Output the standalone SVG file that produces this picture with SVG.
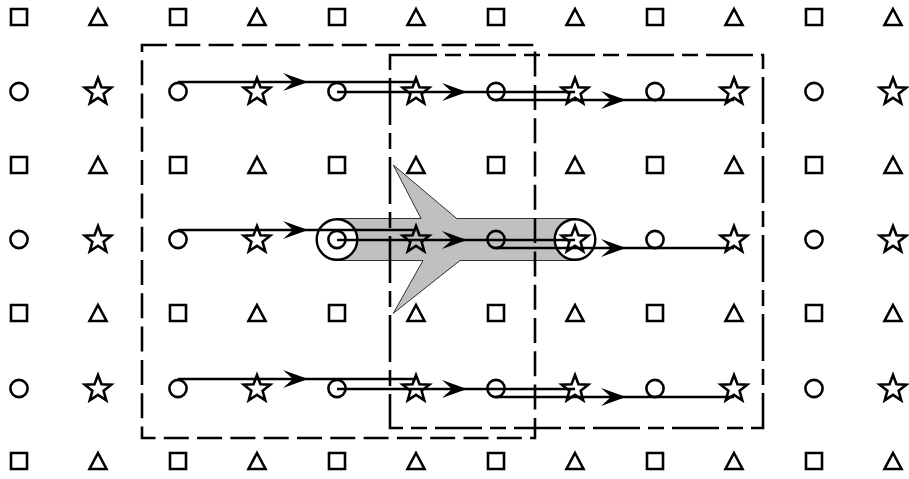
<svg xmlns="http://www.w3.org/2000/svg" xmlns:xlink="http://www.w3.org/1999/xlink" width="909" height="479" viewBox="0 0 909 479">
<style>
.s{fill:none;stroke:#000;stroke-width:2.6}
.d1{fill:none;stroke:#000;stroke-width:2.6;stroke-dasharray:25 8.3}
.d2{fill:none;stroke:#000;stroke-width:2.6;stroke-dasharray:47 8 16 8}
.ln{fill:none;stroke:#000;stroke-width:2.4}
.big{fill:#fff;stroke:#000;stroke-width:2.4}
</style>
<defs>
<path id="sq" d="M-8,-8 h16 v16 h-16 Z"/>
<path id="tri" d="M0,-8 L8.5,8 L-8.5,8 Z"/>
<circle id="ci" cx="0" cy="0" r="8.6"/>
<path id="st" d="M0,-14 L3.47,-4.78 L13.31,-4.33 L5.62,1.83 L8.23,11.33 L0,5.9 L-8.23,11.33 L-5.62,1.83 L-13.31,-4.33 L-3.47,-4.78 Z"/>
<marker id="ah" viewBox="-16 -10 28 20" refX="0" refY="0" markerWidth="28" markerHeight="20" markerUnits="userSpaceOnUse" orient="auto">
<path d="M11,0 L-14,-9 L-4,0 L-14,9 Z" fill="#000"/>
</marker>
</defs>
<rect width="909" height="479" fill="#fff"/>
<g id="highlight">
<path d="M337,218.5 H421 L393.3,165 L456.7,218.5 H575 V260.5 H460 L393.3,313.3 L423,260.5 H337 Z" fill="#c0c0c0" stroke="#303030" stroke-width="1"/>
<circle cx="337" cy="239.5" r="20.3" class="big"/>
<circle cx="575" cy="239.5" r="20.3" class="big"/>
</g>
<g id="grid">
<g id="r0c0" class="s"><use xlink:href="#sq" x="19" y="17"/></g>
<g id="r0c1" class="s"><use xlink:href="#tri" x="98" y="17"/></g>
<g id="r0c2" class="s"><use xlink:href="#sq" x="178" y="17"/></g>
<g id="r0c3" class="s"><use xlink:href="#tri" x="257" y="17"/></g>
<g id="r0c4" class="s"><use xlink:href="#sq" x="337" y="17"/></g>
<g id="r0c5" class="s"><use xlink:href="#tri" x="416" y="17"/></g>
<g id="r0c6" class="s"><use xlink:href="#sq" x="496" y="17"/></g>
<g id="r0c7" class="s"><use xlink:href="#tri" x="575" y="17"/></g>
<g id="r0c8" class="s"><use xlink:href="#sq" x="655" y="17"/></g>
<g id="r0c9" class="s"><use xlink:href="#tri" x="734" y="17"/></g>
<g id="r0c10" class="s"><use xlink:href="#sq" x="814" y="17"/></g>
<g id="r0c11" class="s"><use xlink:href="#tri" x="893" y="17"/></g>

<g id="r1c0" class="s"><use xlink:href="#ci" x="19" y="91.5"/></g>
<g id="r1c1" class="s"><use xlink:href="#st" x="98" y="92"/></g>
<g id="r1c2" class="s"><use xlink:href="#ci" x="178" y="91.5"/></g>
<g id="r1c3" class="s"><use xlink:href="#st" x="257" y="92"/></g>
<g id="r1c4" class="s"><use xlink:href="#ci" x="337" y="91.5"/></g>
<g id="r1c5" class="s"><use xlink:href="#st" x="416" y="92"/></g>
<g id="r1c6" class="s"><use xlink:href="#ci" x="496" y="91.5"/></g>
<g id="r1c7" class="s"><use xlink:href="#st" x="575" y="92"/></g>
<g id="r1c8" class="s"><use xlink:href="#ci" x="655" y="91.5"/></g>
<g id="r1c9" class="s"><use xlink:href="#st" x="734" y="92"/></g>
<g id="r1c10" class="s"><use xlink:href="#ci" x="814" y="91.5"/></g>
<g id="r1c11" class="s"><use xlink:href="#st" x="893" y="92"/></g>

<g id="r2c0" class="s"><use xlink:href="#sq" x="19" y="165"/></g>
<g id="r2c1" class="s"><use xlink:href="#tri" x="98" y="165"/></g>
<g id="r2c2" class="s"><use xlink:href="#sq" x="178" y="165"/></g>
<g id="r2c3" class="s"><use xlink:href="#tri" x="257" y="165"/></g>
<g id="r2c4" class="s"><use xlink:href="#sq" x="337" y="165"/></g>
<g id="r2c5" class="s"><use xlink:href="#tri" x="416" y="165"/></g>
<g id="r2c6" class="s"><use xlink:href="#sq" x="496" y="165"/></g>
<g id="r2c7" class="s"><use xlink:href="#tri" x="575" y="165"/></g>
<g id="r2c8" class="s"><use xlink:href="#sq" x="655" y="165"/></g>
<g id="r2c9" class="s"><use xlink:href="#tri" x="734" y="165"/></g>
<g id="r2c10" class="s"><use xlink:href="#sq" x="814" y="165"/></g>
<g id="r2c11" class="s"><use xlink:href="#tri" x="893" y="165"/></g>

<g id="r3c0" class="s"><use xlink:href="#ci" x="19" y="239.5"/></g>
<g id="r3c1" class="s"><use xlink:href="#st" x="98" y="240"/></g>
<g id="r3c2" class="s"><use xlink:href="#ci" x="178" y="239.5"/></g>
<g id="r3c3" class="s"><use xlink:href="#st" x="257" y="240"/></g>
<g id="r3c4" class="s"><use xlink:href="#ci" x="337" y="239.5"/></g>
<g id="r3c5" class="s"><use xlink:href="#st" x="416" y="240"/></g>
<g id="r3c6" class="s"><use xlink:href="#ci" x="496" y="239.5"/></g>
<g id="r3c7" class="s"><use xlink:href="#st" x="575" y="240"/></g>
<g id="r3c8" class="s"><use xlink:href="#ci" x="655" y="239.5"/></g>
<g id="r3c9" class="s"><use xlink:href="#st" x="734" y="240"/></g>
<g id="r3c10" class="s"><use xlink:href="#ci" x="814" y="239.5"/></g>
<g id="r3c11" class="s"><use xlink:href="#st" x="893" y="240"/></g>

<g id="r4c0" class="s"><use xlink:href="#sq" x="19" y="313"/></g>
<g id="r4c1" class="s"><use xlink:href="#tri" x="98" y="313"/></g>
<g id="r4c2" class="s"><use xlink:href="#sq" x="178" y="313"/></g>
<g id="r4c3" class="s"><use xlink:href="#tri" x="257" y="313"/></g>
<g id="r4c4" class="s"><use xlink:href="#sq" x="337" y="313"/></g>
<g id="r4c5" class="s"><use xlink:href="#tri" x="416" y="313"/></g>
<g id="r4c6" class="s"><use xlink:href="#sq" x="496" y="313"/></g>
<g id="r4c7" class="s"><use xlink:href="#tri" x="575" y="313"/></g>
<g id="r4c8" class="s"><use xlink:href="#sq" x="655" y="313"/></g>
<g id="r4c9" class="s"><use xlink:href="#tri" x="734" y="313"/></g>
<g id="r4c10" class="s"><use xlink:href="#sq" x="814" y="313"/></g>
<g id="r4c11" class="s"><use xlink:href="#tri" x="893" y="313"/></g>

<g id="r5c0" class="s"><use xlink:href="#ci" x="19" y="388.5"/></g>
<g id="r5c1" class="s"><use xlink:href="#st" x="98" y="389"/></g>
<g id="r5c2" class="s"><use xlink:href="#ci" x="178" y="388.5"/></g>
<g id="r5c3" class="s"><use xlink:href="#st" x="257" y="389"/></g>
<g id="r5c4" class="s"><use xlink:href="#ci" x="337" y="388.5"/></g>
<g id="r5c5" class="s"><use xlink:href="#st" x="416" y="389"/></g>
<g id="r5c6" class="s"><use xlink:href="#ci" x="496" y="388.5"/></g>
<g id="r5c7" class="s"><use xlink:href="#st" x="575" y="389"/></g>
<g id="r5c8" class="s"><use xlink:href="#ci" x="655" y="388.5"/></g>
<g id="r5c9" class="s"><use xlink:href="#st" x="734" y="389"/></g>
<g id="r5c10" class="s"><use xlink:href="#ci" x="814" y="388.5"/></g>
<g id="r5c11" class="s"><use xlink:href="#st" x="893" y="389"/></g>

<g id="r6c0" class="s"><use xlink:href="#sq" x="19" y="461"/></g>
<g id="r6c1" class="s"><use xlink:href="#tri" x="98" y="461"/></g>
<g id="r6c2" class="s"><use xlink:href="#sq" x="178" y="461"/></g>
<g id="r6c3" class="s"><use xlink:href="#tri" x="257" y="461"/></g>
<g id="r6c4" class="s"><use xlink:href="#sq" x="337" y="461"/></g>
<g id="r6c5" class="s"><use xlink:href="#tri" x="416" y="461"/></g>
<g id="r6c6" class="s"><use xlink:href="#sq" x="496" y="461"/></g>
<g id="r6c7" class="s"><use xlink:href="#tri" x="575" y="461"/></g>
<g id="r6c8" class="s"><use xlink:href="#sq" x="655" y="461"/></g>
<g id="r6c9" class="s"><use xlink:href="#tri" x="734" y="461"/></g>
<g id="r6c10" class="s"><use xlink:href="#sq" x="814" y="461"/></g>
<g id="r6c11" class="s"><use xlink:href="#tri" x="893" y="461"/></g>
</g>
<g id="windows">
<rect id="window1" x="142" y="45" width="393" height="393" class="d1"/>
<rect id="window2" x="390" y="55" width="373" height="373" class="d2"/>
</g>
<g id="connectors" class="ln" marker-mid="url(#ah)">
<path d="M178,82 H297 H416"/>
<path d="M337,92 H456 H575"/>
<path d="M496,100 H615 H734"/>
<path d="M178,230 H297 H416"/>
<path d="M337,240 H456 H575"/>
<path d="M496,248 H615 H734"/>
<path d="M178,379 H297 H416"/>
<path d="M337,389 H456 H575"/>
<path d="M496,397 H615 H734"/>
</g>
</svg>
